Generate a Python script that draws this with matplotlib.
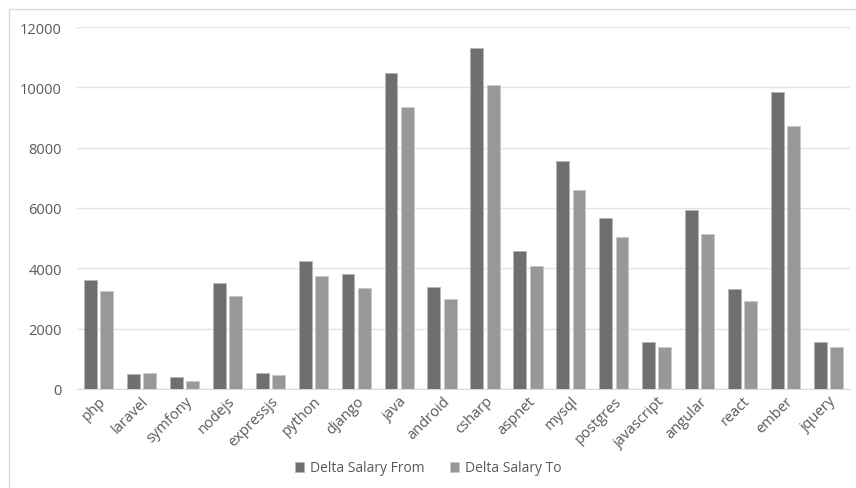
import numpy as np
import matplotlib
matplotlib.use("Agg")
import matplotlib.pyplot as plt
from matplotlib.patches import Rectangle

# Données
langages = ["php", "laravel", "symfony", "nodejs", "expressjs", "python", "django",
            "java", "android", "csharp", "aspnet", "mysql", "postgres", "javascript",
            "angular", "react", "ember", "jquery"]
delta_from = [3620, 500, 400, 3500, 530, 4230, 3800, 10460, 3370, 11300,
              4580, 7560, 5670, 1560, 5930, 3320, 9840, 1560]
delta_to = [3260, 520, 280, 3070, 455, 3750, 3340, 9360, 2980, 10080,
            4080, 6600, 5040, 1390, 5140, 2920, 8720, 1390]

plt.rcParams["font.family"] = ["Open Sans", "DejaVu Sans"]

fig = plt.figure(figsize=(8.56, 4.89), dpi=100)
ax = fig.add_axes([0.09, 0.2025, 0.903, 0.7402])

x = np.arange(len(langages))
w = 0.3
ax.bar(x - 0.19, delta_from, w, color="#6f6f6f", edgecolor="#b5b5b5", linewidth=0.6,
       label="Delta Salary From", zorder=3)
ax.bar(x + 0.19, delta_to, w, color="#989898", edgecolor="#c8c8c8", linewidth=0.6,
       label="Delta Salary To", zorder=3)

ax.set_xlim(-0.5, len(langages) - 0.5)
ax.set_ylim(0, 12000)
ax.set_yticks(range(0, 12001, 2000))
ax.grid(axis="y", color="#e3e3e3", linewidth=1, zorder=0)
for s in ["top", "right", "left"]:
    ax.spines[s].set_visible(False)
ax.spines["bottom"].set_color("#d9d9d9")
ax.tick_params(axis="both", length=0, colors="#595959", labelsize=10.5)
ax.tick_params(axis="y", pad=11)
ax.tick_params(axis="x", pad=3)
ax.set_xticks(x)
ax.set_xticklabels(langages, rotation=45, ha="right", rotation_mode="anchor")

fig.legend(loc="lower center", bbox_to_anchor=(0.5, 0.0), ncol=2, frameon=False,
           fontsize=10, handlelength=0.7, handleheight=0.7, columnspacing=1.8,
           handletextpad=0.4, labelcolor="#595959")

# cadre autour du graphique
fig.patches.append(Rectangle((0.01, -0.01), 1.0, 0.99, transform=fig.transFigure,
                             fill=False, edgecolor="#d9d9d9", linewidth=1))

fig.savefig("out.png", dpi=100)
